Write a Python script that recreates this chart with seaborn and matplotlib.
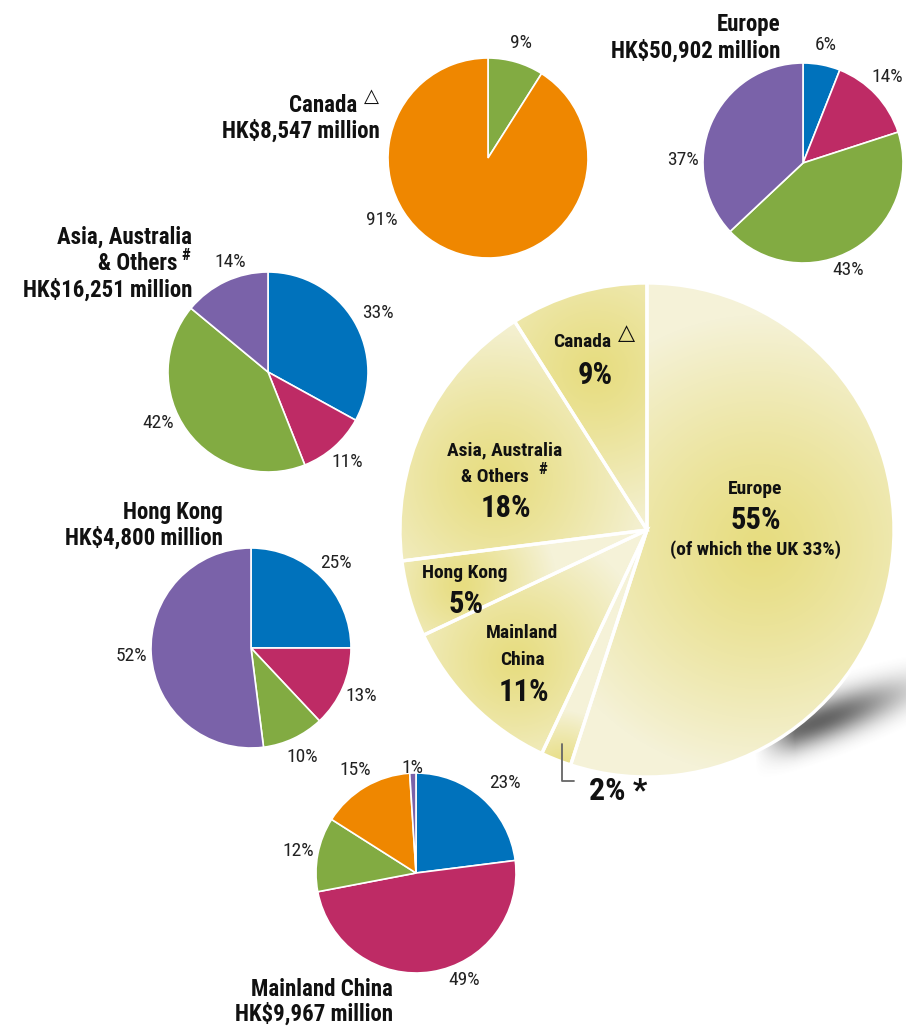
import numpy as np
import matplotlib
matplotlib.use('Agg')
import matplotlib.pyplot as plt
import seaborn as sns

sns.set_theme(style='white')
plt.rcParams['font.family'] = ['Roboto Condensed', 'Open Sans Condensed', 'Noto Sans Condensed',
                               'Liberation Sans Narrow', 'Lato', 'DejaVu Sans']

W, H = 906, 1027

# 颜色
blue, magenta, green, purple, orange = '#0072BC', '#BE2B65', '#82AB42', '#7A62A9', '#EF8700'

# 各地区细分 (%)
canada_vals = [9, 91]
canada_cols = [green, orange]
europe_vals = [6, 14, 43, 37]
europe_cols = [blue, magenta, green, purple]
asia_vals = [33, 11, 42, 14]
asia_cols = [blue, magenta, green, purple]
hk_vals = [25, 13, 10, 52]
hk_cols = [blue, magenta, green, purple]
china_vals = [23, 49, 12, 15, 1]
china_cols = [blue, magenta, green, orange, purple]

# 总体分布 (%)
total_names = ['Europe', 'Others', 'Mainland China', 'Hong Kong', 'Asia, Australia & Others', 'Canada']
total_vals = [55, 2, 11, 5, 18, 9]

titles = {
    'canada': ['Canada', 'HK$8,547 million'],
    'europe': ['Europe', 'HK$50,902 million'],
    'asia': ['Asia, Australia', '& Others', 'HK$16,251 million'],
    'hk': ['Hong Kong', 'HK$4,800 million'],
    'china': ['Mainland China', 'HK$9,967 million'],
}


def Y(y):
    # 图片像素 y -> 数据坐标
    return H - y


fig = plt.figure(figsize=(W / 100, H / 100), dpi=100)
ax = fig.add_axes([0, 0, 1, 1])

# 大饼图阴影 (只在右下方露出)
sx, sy = np.meshgrid(np.arange(700, 906) + 0.5, np.arange(620, 830) + 0.5)
dx, dy = sx - 818, sy - 722
c, s = np.cos(np.deg2rad(-20)), np.sin(np.deg2rad(-20))
u = dx * c + dy * s
v = -dx * s + dy * c
e2 = (u / 120) ** 2 + (v / 27) ** 2
fade_left = np.clip((sx - 755) / 40, 0, 1)
shadow = np.zeros(sx.shape + (4,))
shadow[..., :3] = 0.27
shadow[..., 3] = np.clip(0.85 * np.exp(-e2 * 1.8) - 0.015, 0, 1) * fade_left
ax.imshow(shadow, extent=[700, 906, Y(830), Y(620)], origin='upper', zorder=0.5)

# 大饼图
bx, by, BR = 647, 530, 247
inner = np.array([231, 221, 128]) / 255
outer = np.array([245, 242, 216]) / 255
grad_centres = [(760, 545, 230), (560, 770, 60), (515, 660, 135), (462, 585, 95), (495, 480, 165), (595, 370, 170)]

wedges, _ = ax.pie(total_vals, colors=['#F4F1D8'] * 6, startangle=90, counterclock=False,
                   center=(bx, Y(by)), radius=BR, wedgeprops=dict(linewidth=0, zorder=1))
gx, gy = np.meshgrid(np.arange(bx - BR, bx + BR) + 0.5, np.arange(Y(by) - BR, Y(by) + BR) + 0.5)
for w, (cx, cy, fade) in zip(wedges, grad_centres):
    t = np.clip(np.hypot(gx - cx, gy - Y(cy)) / fade, 0, 1) ** 1.2
    rgb = inner * (1 - t)[..., None] + outer * t[..., None]
    im = ax.imshow(rgb, extent=[bx - BR, bx + BR, Y(by) - BR, Y(by) + BR], origin='lower',
                   zorder=1.5, interpolation='bilinear')
    im.set_clip_path(w)
ax.pie(total_vals, colors=['none'] * 6, startangle=90, counterclock=False,
       center=(bx, Y(by)), radius=BR, wedgeprops=dict(edgecolor='white', linewidth=2.4, zorder=3))

# 小饼图
def small_pie(vals, cols, cx, cy, moves):
    _, _, pcts = ax.pie(vals, colors=cols, startangle=90, counterclock=False,
                        center=(cx, Y(cy)), radius=100, autopct=lambda p: f'{p:.0f}%',
                        pctdistance=1.2, wedgeprops=dict(edgecolor='white', linewidth=1.2),
                        textprops=dict(fontsize=14, color='#222222'))
    for i, (x, y) in moves.items():
        pcts[i].set_position((x, Y(y)))


small_pie(canada_vals, canada_cols, 488, 158, {1: (382, 220)})
small_pie(europe_vals, europe_cols, 803, 163, {3: (683, 160), 2: (848, 270), 1: (887, 77)})
small_pie(asia_vals, asia_cols, 268, 372, {2: (158, 423), 3: (230, 262), 0: (378, 313)})
small_pie(hk_vals, hk_cols, 251, 648, {})
small_pie(china_vals, china_cols, 416, 873, {0: (505, 783), 1: (464, 980), 4: (412, 768)})

# 标题
tkw = dict(ha='right', va='center', fontsize=16.5, fontweight='bold', color='#111111', zorder=5)
tri = dict(ha='center', va='center', fontsize=14, color='#111111', family='DejaVu Sans', zorder=5)
ax.text(357, Y(105), titles['canada'][0], **tkw)
ax.text(371, Y(96), '△', **tri)
ax.text(380, Y(131), titles['canada'][1], **tkw)
ax.text(780, Y(24), titles['europe'][0], **tkw)
ax.text(780, Y(51), titles['europe'][1], **tkw)
ax.text(192, Y(237), titles['asia'][0], **tkw)
ax.text(177, Y(264), titles['asia'][1], **tkw)
ax.text(186, Y(255), '#', ha='center', va='center', fontsize=12, fontweight='bold', color='#111111')
ax.text(192, Y(290), titles['asia'][2], **tkw)
ax.text(223, Y(513), titles['hk'][0], **tkw)
ax.text(223, Y(538), titles['hk'][1], **tkw)
ax.text(393, Y(990), titles['china'][0], **tkw)
ax.text(393, Y(1014), titles['china'][1], **tkw)

# 大饼图标签
nkw = dict(ha='center', va='center', fontsize=14, fontweight='bold', color='#111111', zorder=5)
pkw = dict(ha='center', va='center', fontsize=22, fontweight='bold', color='#111111', zorder=5)
ax.text(582, Y(342), 'Canada', **nkw)
ax.text(627, Y(333), '△', ha='center', va='center', fontsize=16, color='#111111',
        family='DejaVu Sans', zorder=5)
ax.text(595, Y(375), f'{total_vals[5]}%', **pkw)
ax.text(505, Y(450), 'Asia, Australia', **nkw)
ax.text(495, Y(477), '& Others', **nkw)
ax.text(543, Y(470), '#', ha='center', va='center', fontsize=12, fontweight='bold', color='#111111', zorder=5)
ax.text(506, Y(508), f'{total_vals[4]}%', **pkw)
ax.text(755, Y(489), 'Europe', **nkw)
ax.text(756, Y(520), f'{total_vals[0]}%', **pkw)
ax.text(755, Y(550), '(of which the UK 33%)', **nkw)
ax.text(465, Y(573), 'Hong Kong', **nkw)
ax.text(466, Y(604), f'{total_vals[3]}%', **pkw)
ax.text(522, Y(633), 'Mainland', **nkw)
ax.text(522, Y(660), 'China', **nkw)
ax.text(524, Y(692), f'{total_vals[2]}%', **pkw)

# 2% 引线
mid = np.deg2rad(90 - 360 * (total_vals[0] + total_vals[1] / 2) / 100)
px, py = bx + BR * 0.93 * np.cos(mid), Y(by) + BR * 0.93 * np.sin(mid)
ax.plot([px, px, px + 12], [py, py - 37, py - 37], color='#666666', lw=1.3, zorder=5)
ax.text(px + 27, py - 47, f'{total_vals[1]}% *', ha='left', va='center', fontsize=23,
        fontweight='bold', color='#111111', zorder=5)

ax.set_xlim(0, W)
ax.set_ylim(0, H)
ax.set_aspect('equal')
ax.axis('off')

plt.savefig('out.png', dpi=100)
